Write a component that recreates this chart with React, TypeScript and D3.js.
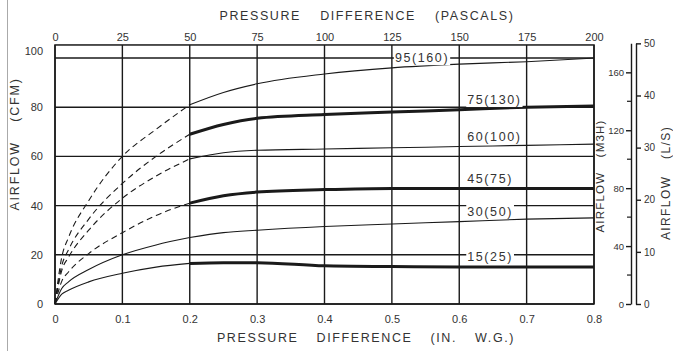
import * as d3 from 'd3';
import { useEffect, useRef } from 'react';

// pressure difference, inches water gauge
const pressureWG = [0, 0.01, 0.02, 0.05, 0.1, 0.15, 0.2, 0.25, 0.3, 0.4, 0.5, 0.6, 0.7, 0.8];

// airflow in CFM for each fan curve
const flow95 = [0, 19, 27, 42, 60, 71, 81, 86, 89.5, 93.5, 96, 97.5, 98.5, 100];
const flow75 = [0, 15.5, 22, 34.5, 49, 60, 69, 73, 75.5, 77, 78, 79, 80, 80.5];
const flow60 = [0, 13.6, 19, 30, 43, 52, 59, 61.5, 62.5, 63, 63.5, 64, 64.5, 65];
const flow45 = [0, 9.2, 13, 20.5, 29, 36, 41, 44, 45.5, 46.5, 47, 47, 47, 47];
const flow30 = [0, 6.3, 9, 14, 20, 24, 27, 29, 30, 31.5, 32.5, 33.5, 34.5, 35];
const flow15 = [0, 4, 5.6, 9, 12.5, 15, 16.5, 16.8, 16.8, 15.5, 15.2, 15, 15, 15];

const seriesLabels = ['95(160)', '75(130)', '60(100)', '45(75)', '30(50)', '15(25)'];
const seriesValues = [flow95, flow75, flow60, flow45, flow30, flow15];
const dashedStart = [true, true, true, true, false, false];
const thickTail = [false, true, false, true, false, true];
const labelAt = [0.5, 0.6, 0.6, 0.6, 0.6, 0.6];

const wgTicks = [0, 0.1, 0.2, 0.3, 0.4, 0.5, 0.6, 0.7, 0.8];
const paTicks = [0, 25, 50, 75, 100, 125, 150, 175, 200];
const cfmTicks = [0, 20, 40, 60, 80, 100];
const m3hTicks = [0, 40, 80, 120, 160];
const m3hMinor = [20, 60, 100, 140];
const lsTicks = [0, 10, 20, 30, 40, 50];

const FONT = '"Liberation Sans", Arial, sans-serif';
const INK = '#1a1a1a';
const TXT = '#333';

function FanChart() {
    const svgRef = useRef<SVGSVGElement>(null);

    useEffect(() => {
        if (!svgRef.current) return;
        const svg = d3.select(svgRef.current);
        svg.selectAll('*').remove();

        const W = 673, H = 351;
        const x = d3.scaleLinear().domain([0, 0.8]).range([55, 594]);
        const xPa = d3.scaleLinear().domain([0, 200]).range([55, 594]);
        const y = d3.scaleLinear().domain([0, 100]).range([304, 58]);
        const yTop = 105.3;

        svg.append('rect').attr('width', W).attr('height', H).attr('fill', 'white');

        // scanned page edge
        svg.append('line')
            .attr('x1', 7.5).attr('x2', 7.5).attr('y1', 0).attr('y2', H)
            .attr('stroke', '#aaa').attr('stroke-width', 1);

        const g = svg.append('g');

        // grid
        g.selectAll('.vgrid').data(wgTicks).enter().append('line')
            .attr('x1', d => x(d)).attr('x2', d => x(d))
            .attr('y1', y(yTop)).attr('y2', y(0))
            .attr('stroke', INK).attr('stroke-width', 1.4);
        g.selectAll('.hgrid').data(cfmTicks).enter().append('line')
            .attr('x1', x(0)).attr('x2', x(0.8))
            .attr('y1', d => y(d)).attr('y2', d => y(d))
            .attr('stroke', INK).attr('stroke-width', 1.4);
        g.append('rect')
            .attr('x', x(0)).attr('y', y(yTop))
            .attr('width', x(0.8) - x(0)).attr('height', y(0) - y(yTop))
            .attr('fill', 'none').attr('stroke', INK).attr('stroke-width', 1.5);

        // curves
        const pts = (vals: number[]) => pressureWG.map((p, i) => [p, vals[i]] as [number, number]);
        const line = d3.line<[number, number]>()
            .x(d => x(d[0])).y(d => y(d[1]))
            .curve(d3.curveMonotoneX);

        seriesValues.forEach((vals, i) => {
            const all = pts(vals);
            const head = all.filter(d => d[0] <= 0.2);
            const tail = all.filter(d => d[0] >= 0.2);
            g.append('path')
                .attr('d', line(head))
                .attr('fill', 'none').attr('stroke', INK)
                .attr('stroke-width', 1.1)
                .attr('stroke-dasharray', dashedStart[i] ? '6,4' : null);
            g.append('path')
                .attr('d', line(tail))
                .attr('fill', 'none').attr('stroke', INK)
                .attr('stroke-width', thickTail[i] ? 3 : 1.1);
        });

        // curve labels
        seriesLabels.forEach((lab, i) => {
            const at = labelAt[i];
            const idx = pressureWG.indexOf(at);
            const cy = y(seriesValues[i][idx]) - 10;
            const lx = x(at) + (i === 0 ? 3 : 8);
            const t = g.append('text')
                .attr('x', lx).attr('y', cy)
                .attr('dy', '0.35em')
                .attr('font-family', FONT).attr('font-size', 12.5)
                .attr('letter-spacing', 1.6)
                .attr('fill', TXT)
                .text(lab);
            const bb = (t.node() as SVGTextElement).getBBox();
            g.insert('rect', () => t.node())
                .attr('x', bb.x - 1).attr('y', bb.y)
                .attr('width', bb.width + 2).attr('height', bb.height)
                .attr('fill', 'white');
        });

        const styleAxis = (sel: d3.Selection<SVGGElement, unknown, null, undefined>, size: number) => {
            sel.selectAll('text')
                .attr('font-family', FONT).attr('font-size', size).attr('fill', TXT);
        };

        // bottom axis
        const bx = svg.append('g')
            .attr('transform', `translate(0, ${y(0)})`)
            .call(d3.axisBottom(x).tickValues(wgTicks)
                .tickFormat(d => (+d === 0 ? '0' : d3.format('.1f')(+d)))
                .tickSize(0).tickPadding(11));
        bx.select('.domain').remove();
        styleAxis(bx, 11);

        // top axis
        const tx = svg.append('g')
            .attr('transform', `translate(0, ${y(yTop)})`)
            .call(d3.axisTop(xPa).tickValues(paTicks).tickSize(0).tickPadding(4));
        tx.select('.domain').remove();
        styleAxis(tx, 11);

        // left axis
        const lx = svg.append('g')
            .attr('transform', `translate(${x(0)}, 0)`)
            .call(d3.axisLeft(y).tickValues(cfmTicks).tickSize(0).tickPadding(12));
        lx.select('.domain').remove();
        styleAxis(lx, 11);
        lx.selectAll<SVGGElement, number>('.tick').filter(d => d === 100)
            .select('text').attr('dy', '-0.35em');

        // right axes: m3/h and L/s
        const cfmMax = 106;
        const yM = d3.scaleLinear().domain([0, cfmMax * 1.699]).range([y(0), y(cfmMax)]);
        const yL = d3.scaleLinear().domain([0, cfmMax * 0.4719]).range([y(0), y(cfmMax)]);

        const mx = svg.append('g')
            .attr('transform', 'translate(631, 0)')
            .call(d3.axisLeft(yM).tickValues(m3hTicks).tickSize(5).tickSizeOuter(0).tickPadding(2));
        mx.selectAll('path, line').attr('stroke', INK).attr('stroke-width', 1.4);
        styleAxis(mx, 9.5);
        mx.selectAll('.minor').data(m3hMinor).enter().append('line')
            .attr('x1', -4).attr('x2', 0)
            .attr('y1', d => yM(d)).attr('y2', d => yM(d))
            .attr('stroke', INK).attr('stroke-width', 1.2);

        const rx = svg.append('g')
            .attr('transform', 'translate(636, 0)')
            .call(d3.axisRight(yL).tickValues(lsTicks).tickSize(5).tickSizeOuter(0).tickPadding(3));
        rx.selectAll('path, line').attr('stroke', INK).attr('stroke-width', 1.4);
        styleAxis(rx, 10);

        // titles
        const title = (txt: string, tx0: number, ty0: number, rot: number, size: number, ls: number, ws: number) => {
            svg.append('text')
                .attr('transform', `translate(${tx0}, ${ty0}) rotate(${rot})`)
                .attr('text-anchor', 'middle').attr('dy', '0.35em')
                .attr('font-family', FONT).attr('font-size', size)
                .attr('letter-spacing', ls).attr('word-spacing', ws)
                .attr('fill', TXT)
                .text(txt);
        };
        title('PRESSURE DIFFERENCE (PASCALS)', 367, 16, 0, 12.5, 1.6, 14);
        title('PRESSURE DIFFERENCE (IN. W.G.)', 366, 338, 0, 12.5, 1.6, 13);
        title('AIRFLOW (CFM)', 15, 144, -90, 12.5, 1.8, 14);
        title('AIRFLOW (M3H)', 600, 176, -90, 11.5, 1.2, 10);
        title('AIRFLOW (L/S)', 666, 183, -90, 12, 1.4, 12);

        return () => {
            d3.select(svgRef.current).selectAll('*').remove();
        };
    }, []);

    return (
        <svg ref={svgRef} width={673} height={351}
            style={{ position: 'absolute', left: 0, top: 0, display: 'block' }} />
    );
}

export default function App() {
    return <FanChart />;
}
